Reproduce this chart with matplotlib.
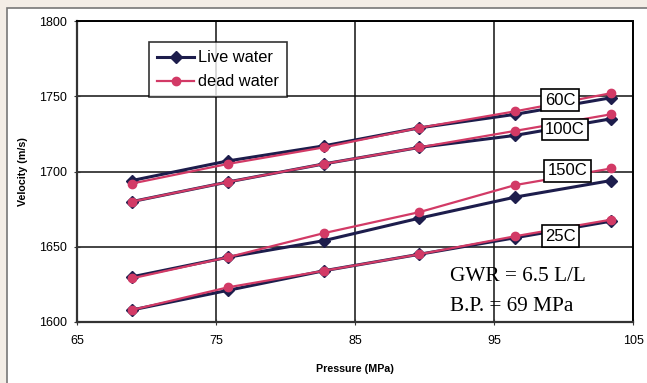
import matplotlib
matplotlib.use("Agg")
import matplotlib.pyplot as plt
from matplotlib.patches import Rectangle

# pressure steps (MPa)
pressure = [68.95, 75.84, 82.74, 89.63, 96.53, 103.42]

# velocity (m/s), live water
live_60 = [1694, 1707, 1717, 1729, 1738, 1749]
live_100 = [1680, 1693, 1705, 1716, 1724, 1735]
live_150 = [1630, 1643, 1654, 1669, 1683, 1694]
live_25 = [1608, 1621, 1634, 1645, 1656, 1667]

# velocity (m/s), dead water
dead_60 = [1692, 1705, 1716, 1729, 1740, 1752]
dead_100 = [1680, 1693, 1705, 1716, 1727, 1738]
dead_150 = [1629, 1643, 1659, 1673, 1691, 1702]
dead_25 = [1608, 1623, 1634, 1645, 1657, 1668]

curve_labels = ["60C", "100C", "150C", "25C"]
label_pos = [(99.75, 1747.5), (100.1, 1728), (100.3, 1700.5), (99.8, 1657)]

live_col = "#1d1d4c"
dead_col = "#d23a66"

fig = plt.figure(figsize=(6.47, 3.83), dpi=100)
fig.patch.set_facecolor("#f3ede6")
fig.patches.append(Rectangle((7 / 647, -0.02), 1, 1.02 - 8 / 383, transform=fig.transFigure,
                             facecolor="white", edgecolor="#777777", lw=1.2, zorder=-5))

ax = fig.add_axes([77 / 647, 1 - 322 / 383, 556 / 647, 301 / 383])
ax.set_facecolor("white")

live = [live_60, live_100, live_150, live_25]
dead = [dead_60, dead_100, dead_150, dead_25]
for i in range(4):
    ax.plot(pressure, live[i], color=live_col, lw=2.2, marker="D", ms=6.5,
            label="Live water" if i == 0 else None, zorder=3)
    ax.plot(pressure, dead[i], color=dead_col, lw=1.6, marker="o", ms=6,
            label="dead water" if i == 0 else None, zorder=4)

for lab, (x, y) in zip(curve_labels, label_pos):
    ax.text(x, y, lab, fontsize=12, family="Liberation Sans", ha="center", va="center",
            bbox=dict(boxstyle="square,pad=0.2", fc="white", ec="black", lw=1.2), zorder=6)

ax.text(91.8, 1630, "GWR = 6.5 L/L", fontsize=15.3, family="Liberation Serif", va="center")
ax.text(91.8, 1610, "B.P. = 69 MPa", fontsize=15.3, family="Liberation Serif", va="center")

ax.set_xlim(65, 105)
ax.set_ylim(1600, 1800)
ax.set_xticks([65, 75, 85, 95, 105])
ax.set_yticks([1600, 1650, 1700, 1750, 1800])
ax.grid(True, color="#111111", lw=1.1)
ax.set_axisbelow(True)
ax.tick_params(labelsize=9, length=4, direction="inout", color="#333333")
for t in ax.get_xticklabels() + ax.get_yticklabels():
    t.set_family("Liberation Sans")
ax.tick_params(axis="x", pad=7)
ax.tick_params(axis="y", pad=5)

for side in ["top", "right"]:
    ax.spines[side].set_linestyle((0, (1.5, 1)))
    ax.spines[side].set_linewidth(1.4)
for side in ["left", "bottom"]:
    ax.spines[side].set_linewidth(1.6)
    ax.spines[side].set_color("#333333")

ax.set_xlabel("Pressure (MPa)", fontsize=7.7, fontweight="bold", family="Liberation Sans")
ax.set_ylabel("Velocity (m/s)", fontsize=7.7, fontweight="bold", family="Liberation Sans")
ax.xaxis.set_label_coords(0.5, -0.14)
ax.yaxis.set_label_coords(-0.088, 0.5)

leg = ax.legend(loc="upper left", bbox_to_anchor=(0.13, 0.93), prop={"family": "Liberation Sans", "size": 11.8},
                frameon=True, fancybox=False, edgecolor="black", handlelength=2.2,
                borderpad=0.5, labelspacing=0.55, handletextpad=0.25, borderaxespad=0)
leg.get_frame().set_linewidth(1.2)
leg.set_zorder(7)

fig.savefig("out.png", dpi=100, facecolor=fig.get_facecolor())
